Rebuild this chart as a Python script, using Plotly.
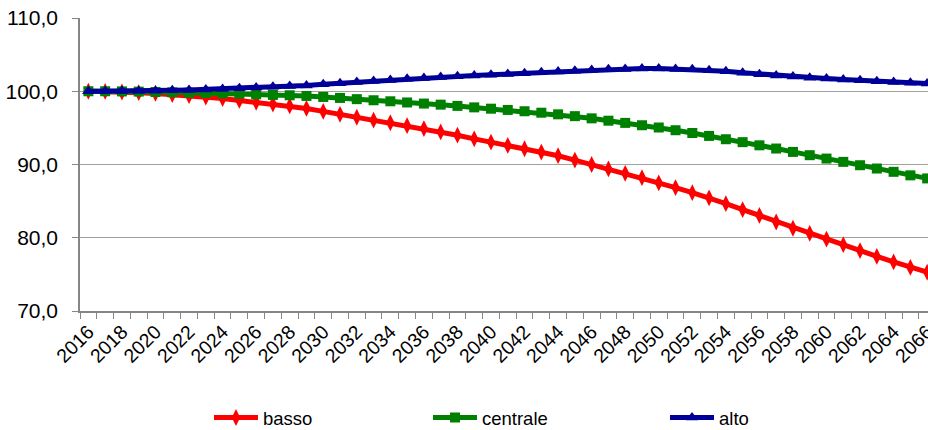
import plotly.graph_objects as go

# Index values (base year 2016 = 100) for three scenarios
years = list(range(2016, 2067))

basso = [100.0, 99.98, 99.9, 99.8, 99.7, 99.55, 99.4, 99.2, 99.0, 98.75,
         98.5, 98.25, 98.0, 97.65, 97.25, 96.85, 96.45, 96.05, 95.7, 95.3,
         94.9, 94.45, 94.0, 93.5, 93.05, 92.6, 92.15, 91.7, 91.2, 90.6,
         90.0, 89.4, 88.8, 88.2, 87.5, 86.85, 86.15, 85.45, 84.65, 83.85,
         83.05, 82.15, 81.3, 80.6, 79.8, 79.05, 78.25, 77.45, 76.7, 75.95,
         75.3]

centrale = [100.0, 100.0, 99.98, 99.95, 99.9, 99.85, 99.8, 99.75, 99.7, 99.65,
            99.58, 99.5, 99.45, 99.36, 99.22, 99.09, 98.92, 98.77, 98.63, 98.47,
            98.32, 98.17, 98.0, 97.8, 97.62, 97.45, 97.27, 97.07, 96.85, 96.6,
            96.3, 95.98, 95.68, 95.36, 95.05, 94.68, 94.3, 93.9, 93.45, 93.05,
            92.62, 92.18, 91.72, 91.27, 90.81, 90.36, 89.9, 89.45, 89.0, 88.52,
            88.1]

alto = [100.0, 100.0, 100.02, 100.05, 100.08, 100.12, 100.18, 100.25, 100.32, 100.4,
        100.5, 100.6, 100.7, 100.8, 100.95, 101.1, 101.25, 101.4, 101.55, 101.7,
        101.82, 101.95, 102.05, 102.15, 102.25, 102.35, 102.45, 102.6, 102.7, 102.8,
        102.9, 103.0, 103.05, 103.1, 103.1, 103.05, 103.0, 102.88, 102.73, 102.52,
        102.33, 102.15, 102.0, 101.85, 101.73, 101.62, 101.5, 101.37, 101.26, 101.15,
        101.05]

tick_years = list(range(2016, 2067, 2))
y_ticks = [70, 80, 90, 100, 110]

FONT = "Liberation Sans, Arial, sans-serif"
AXIS_GREY = "#868686"
GRID_GREY = "#A0A0A0"

# name, values, colour, marker symbol, marker size, legend id, legend x (container)
series = [
    ("basso", basso, "#FF0000", "diamond-tall", 12, "legend", 0.2252),
    ("centrale", centrale, "#008000", "square", 10, "legend2", 0.4612),
    ("alto", alto, "#000099", "triangle-up", 11, "legend3", 0.7166),
]

fig = go.Figure()
legends = {}
for name, vals, color, symbol, msize, leg, lx in series:
    fig.add_trace(go.Scatter(
        x=years, y=vals, name=name, mode="lines+markers",
        line=dict(color=color, width=5),
        marker=dict(symbol=symbol, size=msize, color=color, line=dict(width=0)),
        legend=leg,
    ))
    legends[leg] = dict(
        x=lx, xref="container", y=0.028, yref="container",
        xanchor="left", yanchor="middle",
        orientation="h", bgcolor="rgba(0,0,0,0)",
        font=dict(family=FONT, size=18.5, color="#000000"),
        itemwidth=44,
    )

fig.update_layout(
    width=928, height=430,
    margin=dict(l=80, r=0, t=18, b=119),
    paper_bgcolor="white", plot_bgcolor="white",
    separators=",.",
    showlegend=True,
    **legends,
)

fig.update_xaxes(
    range=[2015.5, 2066.05],
    tickmode="array", tickvals=tick_years, ticktext=[str(y) for y in tick_years],
    tickangle=-45, ticks="", ticklabeloverflow="allow",
    tickfont=dict(family=FONT, size=19.5, color="#000000"),
    showgrid=False, zeroline=False, automargin=False,
    showline=True, linecolor=AXIS_GREY, linewidth=1.5,
    minor=dict(tick0=2015.5, dtick=1, ticks="outside", ticklen=6,
               tickcolor=AXIS_GREY, tickwidth=1.2, showgrid=False),
)

fig.update_yaxes(
    range=[70, 110], tickmode="array", tickvals=y_ticks, tickformat=".1f",
    ticks="outside", ticklen=6, tickcolor=AXIS_GREY, tickwidth=1.2,
    ticklabelstandoff=10, automargin=False,
    tickfont=dict(family=FONT, size=21, color="#000000"),
    showgrid=True, gridcolor=GRID_GREY, gridwidth=1.3,
    zeroline=False,
    showline=True, linecolor=AXIS_GREY, linewidth=1.5,
)

fig.write_html("out.html")
